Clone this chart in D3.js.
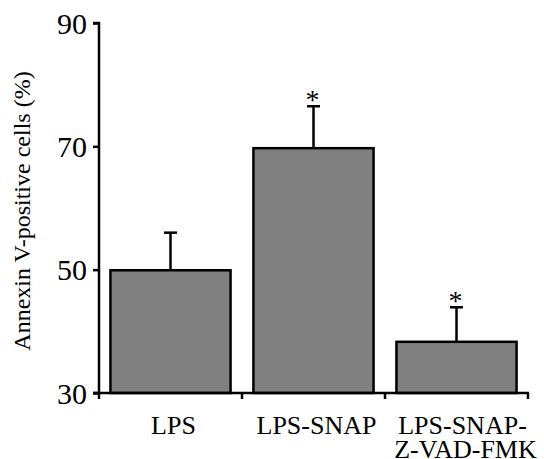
<!DOCTYPE html>
<html>
<head>
<meta charset="utf-8">
<script src="https://cdn.jsdelivr.net/npm/d3@7"></script>
<style>
  body { margin: 0; background: #fff; }
</style>
</head>
<body>
<svg></svg>
<script>
let svgWidth = 544
let svgHeight = 459
const serif = '"Liberation Serif"'

// data
const categories = ['LPS', 'LPS-SNAP', 'LPS-SNAP-\nZ-VAD-FMK']
const values = [49.9, 69.7, 38.3]
const errors = [6.1, 6.8, 5.6]
const significant = [false, true, true]
const yTicks = [30, 50, 70, 90]

let margin = {left: 99, top: 23, right: 16, bottom: 66}

let svg = d3.select('svg')
    .attr('width', svgWidth)
    .attr('height', svgHeight)

const x = d3.scaleBand()
    .domain(categories)
    .range([margin.left, 528])
    .padding(0)

const y = d3.scaleLinear()
    .domain([30, 90])
    .range([svgHeight - margin.bottom, margin.top])

let data = categories.map((c, i) => ({cat: c, v: values[i], e: errors[i], sig: significant[i]}))
let inset = x.bandwidth() * 0.08

// bars
svg.selectAll('rect.bar').data(data)
    .enter()
    .append('rect')
    .attr('class', 'bar')
    .attr('x', d => x(d.cat) + inset)
    .attr('y', d => y(d.v))
    .attr('width', x.bandwidth() - 2 * inset)
    .attr('height', d => y(30) - y(d.v))
    .attr('fill', '#808080')
    .attr('stroke', '#000')
    .attr('stroke-width', 2.5)

// error bars (upper only)
let cx = d => x(d.cat) + x.bandwidth() / 2
svg.selectAll('line.err').data(data)
    .enter()
    .append('line')
    .attr('x1', cx).attr('x2', cx)
    .attr('y1', d => y(d.v)).attr('y2', d => y(d.v + d.e))
    .attr('stroke', '#000').attr('stroke-width', 2.5)
svg.selectAll('line.cap').data(data)
    .enter()
    .append('line')
    .attr('x1', d => cx(d) - 6.5).attr('x2', d => cx(d) + 6.5)
    .attr('y1', d => y(d.v + d.e)).attr('y2', d => y(d.v + d.e))
    .attr('stroke', '#000').attr('stroke-width', 2.5)

// asterisks
svg.selectAll('text.sig').data(data.filter(d => d.sig))
    .enter()
    .append('text')
    .attr('x', d => cx(d) - 1)
    .attr('y', d => y(d.v + d.e) + 3)
    .attr('text-anchor', 'middle')
    .style('font-family', serif)
    .style('font-size', '28px')
    .text('*')

// y axis
const yAxis = d3.axisLeft(y).tickValues(yTicks).tickSize(6).tickPadding(6)
let gy = svg.append('g')
    .attr('transform', `translate(${margin.left},0)`)
    .call(yAxis)
gy.select('.domain').attr('d', `M-6,${y(90)}H0V${y(30)}H-6`).attr('stroke-width', 2.5)
gy.selectAll('.tick line').attr('stroke-width', 2.5)
gy.selectAll('.tick text')
    .style('font-family', serif)
    .style('font-size', '30px')
    .attr('dy', '0.34em')

// x axis with boundary ticks
let bounds = categories.map(c => x(c)).concat([x.range()[1]])
svg.append('line')
    .attr('x1', margin.left - 6).attr('x2', x.range()[1] + 1)
    .attr('y1', y(30)).attr('y2', y(30))
    .attr('stroke', '#000').attr('stroke-width', 2.5)
svg.selectAll('line.xtick').data(bounds)
    .enter()
    .append('line')
    .attr('x1', d => d).attr('x2', d => d)
    .attr('y1', y(30)).attr('y2', y(30) + 6)
    .attr('stroke', '#000').attr('stroke-width', 2.5)

// x labels
svg.selectAll('text.xlab').data(data)
    .enter()
    .append('text')
    .attr('text-anchor', 'middle')
    .style('font-family', serif)
    .style('font-size', '26px')
    .each(function(d) {
        let lines = d.cat.split('\n')
        lines.forEach((l, i) => {
            d3.select(this).append('tspan')
                .attr('x', cx(d) + 3 + (lines.length > 1 ? 3 + 3 * i : 0))
                .attr('y', 434 + i * 24)
                .text(l)
        })
    })

// y label
svg.append('text')
    .attr('transform', 'translate(30,211) rotate(-90)')
    .attr('text-anchor', 'middle')
    .style('font-family', serif)
    .style('font-size', '24px')
    .text('Annexin V-positive cells (%)')
</script>
</body>
</html>
